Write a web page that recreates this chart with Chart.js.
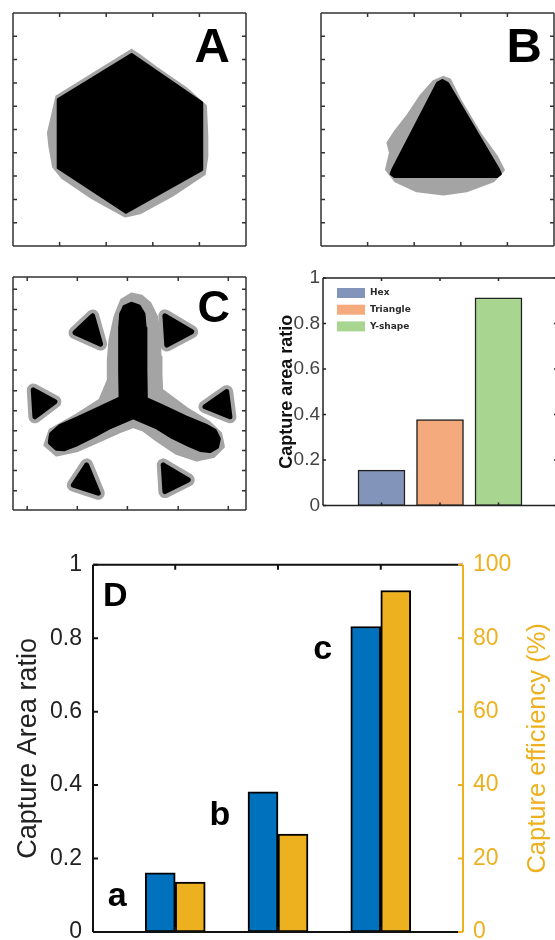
<!DOCTYPE html>
<html>
<head>
<meta charset="utf-8">
<script src="https://cdn.jsdelivr.net/npm/chart.js@4.4.1/dist/chart.umd.min.js"></script>
<style>
html, body { margin: 0; padding: 0; background: #fff; }
body { width: 555px; height: 940px; overflow: hidden; position: relative; }
canvas { position: absolute; }
</style>
</head>
<body>
<canvas id="panelA" width="260" height="260" style="left:0;top:0"></canvas>
<canvas id="panelB" width="260" height="260" style="left:308px;top:0"></canvas>
<canvas id="panelC" width="260" height="260" style="left:0;top:264px"></canvas>
<canvas id="shapeBars" width="310" height="260" style="left:260px;top:260px"></canvas>
<canvas id="panelD" width="555" height="420" style="left:0;top:540px"></canvas>
<script>
// ---- panel A: hexagon (black) and its captured area (grey), 0..100 units
var hexCore = [[50.9,82.2],[19.4,62.9],[19.4,33.6],[48.5,14.5],[81.0,32.8],[81.0,61.5]];
var hexHalo = [[50.9,84.2],[37.3,75.8],[27.3,69.6],[18.6,64.2],[17.0,57.2],[15.0,48.6],[15.6,42.8],
  [17.2,34.0],[21.0,29.2],[34.0,20.4],[48.2,12.6],[54.5,14.0],[68.5,21.6],[82.3,30.8],[83.4,38.5],
  [83.4,47.1],[82.8,60.2],[74.3,67.8],[61.7,76.5],[54.5,81.8]];

// ---- panel B: triangle
var triCore = [[52.1,71.0],[54.3,69.8],[76.0,33.2],[77.0,31.0],[75.5,29.8],[31.6,29.8],[30.1,31.0],[31.0,33.2],[50.0,69.9]];
var triHalo = [[52.5,72.6],[55.4,71.5],[59.7,62.9],[68.2,48.6],[75.4,38.6],[78.5,32.6],[74.0,27.8],[62.5,23.5],
  [52.5,22.1],[41.1,23.5],[31.8,27.8],[27.9,32.8],[29.6,40.0],[28.5,44.3],[31.8,49.3],[36.8,55.7],[42.5,64.3],[48.2,70.7]];

// ---- panel C: Y-shape plus six small triangles
var yCore = [[48.0,87.0],[50.9,88.3],[53.9,87.2],[55.8,84.0],[56.3,78.0],[56.6,60.0],[56.8,47.5],[64.0,44.3],
  [74.0,39.6],[83.1,35.8],[86.5,33.8],[88.1,30.5],[87.4,27.2],[84.5,25.5],[80.5,26.0],[76.0,27.9],[68.0,31.8],
  [61.6,35.8],[51.6,40.0],[41.6,35.8],[34.5,32.0],[27.3,28.4],[22.0,26.3],[18.7,26.5],[16.0,29.0],[16.5,32.5],
  [20.2,35.8],[28.0,39.3],[37.0,43.5],[46.4,47.9],[46.2,60.0],[46.2,78.0],[46.6,84.0]];
var yHalo = [[50.9,92.7],[55.2,91.8],[58.8,88.7],[61.6,83.0],[62.8,75.8],[63.1,65.8],[63.5,58.6],[63.8,51.5],
  [74.5,43.6],[83.8,37.9],[89.1,32.9],[90.3,27.2],[86.0,22.9],[78.8,21.4],[70.2,24.3],[61.6,30.0],[55.9,34.3],
  [51.6,35.8],[45.9,33.6],[37.3,29.8],[27.3,25.4],[18.7,23.6],[13.7,27.9],[15.9,34.3],[27.3,40.8],[37.3,47.2],
  [40.9,55.8],[40.9,64.4],[41.6,72.9],[43.8,83.0],[46.6,90.1]];
var sat1 = [[34.2,83.3],[26.6,76.1],[37.6,71.2]];
var sat2 = [[65.2,83.3],[76.7,76.5],[66.0,70.8]];
var sat3 = [[8.7,51.5],[18.0,46.5],[9.4,40.0]];
var sat4 = [[91.7,50.8],[93.1,40.0],[82.4,44.3]];
var sat5 = [[31.6,19.3],[36.6,7.2],[25.9,10.7]];
var sat6 = [[64.5,19.3],[75.2,12.9],[65.2,7.9]];

// tick positions of the image frames
var frameTicksX = [20, 40, 60, 80];
var frameTicksY = [10, 20, 30, 40, 50, 60, 70, 80, 90];
var cTicksX = [6.1, 27.6, 49.1, 70.9, 92.4];
var cTicksY = [8.3, 16.9, 25.5, 34.0, 42.6, 51.2, 60.1, 68.7, 77.3, 86.1, 94.7];

// ---- small bar chart
var shapeNames = ['Hex', 'Triangle', 'Y-shape'];
var shapeRatio = [0.156, 0.378, 0.913];
var shapeColors = ['#8294b9', '#f5aa7d', '#a8d590'];

// ---- panel D
var groups = ['a', 'b', 'c'];
var areaRatio = [0.161, 0.382, 0.832];
var efficiency = [13.6, 26.7, 93.0];
var ratioTicks = [0, 0.2, 0.4, 0.6, 0.8, 1];
var effTicks = [0, 20, 40, 60, 80, 100];
var groupTicks = [1, 2, 3];

var FONT = "'Liberation Sans', Arial, sans-serif";
var GREY = '#a4a4a4';
var GOLD = '#EDB120';

function pts(arr) {
    var p = arr.map(function (v) { return {x: v[0], y: v[1]}; });
    p.push(p[0]);
    return p;
}

// box, inward ticks, panel letter and a few texts
var frame = {
    id: 'frame',
    afterDraw: function (chart, args, o) {
        var ctx = chart.ctx, a = chart.chartArea;
        ctx.save();
        (o.edges || []).forEach(function (e) {
            var sc = chart.scales[e.scale];
            ctx.strokeStyle = e.color;
            ctx.lineWidth = e.width;
            ctx.beginPath();
            if (e.side === 'left' || e.side === 'right') {
                var x = e.side === 'left' ? a.left : a.right, d = e.side === 'left' ? 1 : -1;
                ctx.moveTo(x, a.top); ctx.lineTo(x, a.bottom);
                e.ticks.forEach(function (t) {
                    var y = sc.getPixelForValue(t);
                    ctx.moveTo(x, y); ctx.lineTo(x + d * o.len, y);
                });
            } else {
                var y = e.side === 'top' ? a.top : a.bottom, d2 = e.side === 'top' ? 1 : -1;
                ctx.moveTo(a.left, y); ctx.lineTo(a.right, y);
                e.ticks.forEach(function (t) {
                    var xx = sc.getPixelForValue(t);
                    ctx.moveTo(xx, y); ctx.lineTo(xx, y + d2 * o.len);
                });
            }
            ctx.stroke();
        });
        if (o.letter) {
            var L = o.letter;
            ctx.fillStyle = '#000';
            ctx.font = L.font;
            ctx.textAlign = L.align;
            ctx.textBaseline = 'alphabetic';
            ctx.fillText(L.text, (L.align === 'right' ? a.right : a.left) + L.dx, a.top + L.dy);
        }
        if (o.sideTitle) {
            var T = o.sideTitle;
            ctx.save();
            ctx.translate(T.x, (a.top + a.bottom) / 2);
            ctx.rotate(-Math.PI / 2);
            ctx.fillStyle = T.color;
            ctx.font = T.font;
            ctx.textAlign = 'center';
            ctx.textBaseline = 'middle';
            ctx.fillText(T.text, 0, 0);
            ctx.restore();
        }
        if (o.groupLabels) {
            var meta = chart.getDatasetMeta(0);
            ctx.fillStyle = '#000';
            ctx.font = 'bold 34px ' + FONT;
            ctx.textAlign = 'center';
            ctx.textBaseline = 'alphabetic';
            o.groupLabels.forEach(function (g, i) {
                var bar = meta.data[i];
                ctx.fillText(g, bar.x - 43, bar.y + 33);
            });
        }
        if (o.legend) {
            var G = o.legend;
            ctx.font = 'bold 9px "DejaVu Sans"';
            ctx.textAlign = 'left';
            ctx.textBaseline = 'middle';
            G.names.forEach(function (n, i) {
                var y = a.top + G.dy + i * G.step;
                ctx.fillStyle = G.colors[i];
                ctx.fillRect(a.left + G.dx, y - 5, 28, 10);
                ctx.fillStyle = '#2b2b2b';
                ctx.fillText(n, a.left + G.dx + 33, y);
            });
        }
        ctx.restore();
    }
};

function shapePanel(id, layers, ticksX, ticksY, letter) {
    return new Chart(document.getElementById(id), {
        type: 'scatter',
        data: {
            datasets: layers.map(function (l) {
                return {
                    data: pts(l.poly),
                    showLine: true,
                    fill: 'shape',
                    backgroundColor: l.color,
                    borderColor: l.color,
                    borderWidth: l.edge,
                    borderJoinStyle: 'round',
                    borderCapStyle: 'round',
                    pointRadius: 0,
                    tension: 0,
                    order: l.order
                };
            })
        },
        options: {
            responsive: false,
            animation: false,
            events: [],
            layout: {padding: {left: 13, top: 13, right: 14, bottom: 14}},
            scales: {
                x: {type: 'linear', min: 0, max: 100, display: false},
                y: {type: 'linear', min: 0, max: 100, display: false}
            },
            plugins: {
                legend: {display: false},
                tooltip: {enabled: false},
                frame: {
                    len: 4,
                    edges: [
                        {side: 'left', scale: 'y', ticks: ticksY, color: '#333', width: 1.5},
                        {side: 'right', scale: 'y', ticks: ticksY, color: '#333', width: 1.5},
                        {side: 'top', scale: 'x', ticks: ticksX, color: '#333', width: 1.5},
                        {side: 'bottom', scale: 'x', ticks: ticksX, color: '#333', width: 1.5}
                    ],
                    letter: letter
                }
            }
        },
        plugins: [frame]
    });
}

shapePanel('panelA', [
    {poly: hexCore, color: '#000', edge: 3, order: 1},
    {poly: hexHalo, color: GREY, edge: 2, order: 2}
], frameTicksX, frameTicksY, {text: 'A', font: 'bold 49px ' + FONT, align: 'right', dx: -16, dy: 49});

shapePanel('panelB', [
    {poly: triCore, color: '#000', edge: 3, order: 1},
    {poly: triHalo, color: GREY, edge: 2, order: 2}
], frameTicksX, frameTicksY, {text: 'B', font: 'bold 49px ' + FONT, align: 'right', dx: -12, dy: 49});

var satellites = [sat1, sat2, sat3, sat4, sat5, sat6];
var cLayers = [
    {poly: yCore, color: '#000', edge: 5, order: 1},
    {poly: yHalo, color: GREY, edge: 3, order: 2}
];
satellites.forEach(function (s) {
    cLayers.push({poly: s, color: '#000', edge: 5, order: 1});
    cLayers.push({poly: s, color: GREY, edge: 13, order: 2});
});
shapePanel('panelC', cLayers, cTicksX, cTicksY,
    {text: 'C', font: 'bold 45px ' + FONT, align: 'right', dx: -16, dy: 45});

// ---- small bar chart (Hex / Triangle / Y-shape)
new Chart(document.getElementById('shapeBars'), {
    type: 'bar',
    data: {
        datasets: shapeNames.map(function (n, i) {
            return {
                label: n,
                data: [{x: groupTicks[i], y: shapeRatio[i]}],
                backgroundColor: shapeColors[i],
                borderColor: '#222',
                borderWidth: 1.5,
                borderSkipped: false,
                barThickness: 47,
                grouped: false
            };
        })
    },
    options: {
        responsive: false,
        animation: false,
        events: [],
        layout: {padding: {left: 0, top: 18, right: 13, bottom: 11}},
        scales: {
            x: {type: 'linear', min: 0, max: 4, offset: false, display: false},
            y: {
                min: 0, max: 1,
                afterBuildTicks: function (s) { s.ticks = ratioTicks.map(function (v) { return {value: v}; }); },
                afterFit: function (s) { s.width = 63; },
                grid: {display: false, drawTicks: false},
                border: {display: false},
                ticks: {font: {family: FONT, size: 19}, color: '#444', padding: 3,
                    callback: function (v) { return String(v); }},
                title: {display: true, text: 'Capture area ratio', color: '#111',
                    font: {family: FONT, size: 18, weight: 'bold'}, padding: {top: 16, bottom: 0}}
            }
        },
        plugins: {
            legend: {display: false},
            tooltip: {enabled: false},
            frame: {
                len: 3,
                edges: [
                    {side: 'left', scale: 'y', ticks: ratioTicks, color: '#222', width: 1.5},
                    {side: 'right', scale: 'y', ticks: ratioTicks, color: '#222', width: 1.5},
                    {side: 'top', scale: 'x', ticks: groupTicks, color: '#222', width: 1.5},
                    {side: 'bottom', scale: 'x', ticks: groupTicks, color: '#222', width: 1.5}
                ],
                legend: {names: shapeNames, colors: shapeColors, dx: 14, dy: 15, step: 16.7}
            }
        }
    },
    plugins: [frame]
});

// ---- panel D: capture area ratio and capture efficiency
new Chart(document.getElementById('panelD'), {
    type: 'bar',
    data: {
        datasets: [
            {
                label: 'Capture Area ratio',
                data: groups.map(function (g, i) { return {x: groupTicks[i], y: areaRatio[i]}; }),
                yAxisID: 'y',
                backgroundColor: '#0072BD',
                borderColor: '#000',
                borderWidth: 2,
                borderSkipped: false,
                barThickness: 30
            },
            {
                label: 'Capture efficiency (%)',
                data: groups.map(function (g, i) { return {x: groupTicks[i], y: efficiency[i]}; }),
                yAxisID: 'y2',
                backgroundColor: GOLD,
                borderColor: '#000',
                borderWidth: 2,
                borderSkipped: false,
                barThickness: 30
            }
        ]
    },
    options: {
        responsive: false,
        animation: false,
        events: [],
        layout: {padding: {left: 0, top: 22, right: 0, bottom: 28}},
        scales: {
            x: {type: 'linear', min: 0.2, max: 3.8, offset: false, display: false},
            y: {
                position: 'left',
                min: 0, max: 1,
                afterBuildTicks: function (s) { s.ticks = ratioTicks.map(function (v) { return {value: v}; }); },
                afterFit: function (s) { s.width = 93; },
                grid: {display: false, drawTicks: false},
                border: {display: false},
                ticks: {font: {family: FONT, size: 23}, color: '#222', padding: 11,
                    callback: function (v) { return String(v); }},
                title: {display: true, text: 'Capture Area ratio', color: '#222',
                    font: {family: FONT, size: 27}, padding: {top: 12, bottom: 0}}
            },
            y2: {
                position: 'right',
                min: 0, max: 100,
                afterBuildTicks: function (s) { s.ticks = effTicks.map(function (v) { return {value: v}; }); },
                afterFit: function (s) { s.width = 92; },
                grid: {display: false, drawTicks: false},
                border: {display: false},
                ticks: {font: {family: FONT, size: 23}, color: GOLD, padding: 10,
                    callback: function (v) { return String(v); }}
            }
        },
        plugins: {
            legend: {display: false},
            tooltip: {enabled: false},
            frame: {
                len: 5,
                edges: [
                    {side: 'left', scale: 'y', ticks: ratioTicks, color: '#111', width: 2},
                    {side: 'top', scale: 'x', ticks: groupTicks, color: '#111', width: 2},
                    {side: 'bottom', scale: 'x', ticks: groupTicks, color: '#111', width: 2},
                    {side: 'right', scale: 'y2', ticks: effTicks, color: GOLD, width: 2}
                ],
                letter: {text: 'D', font: 'bold 34px ' + FONT, align: 'left', dx: 10, dy: 41},
                sideTitle: {text: 'Capture efficiency (%)', x: 538, color: GOLD, font: '25.5px ' + FONT},
                groupLabels: groups
            }
        }
    },
    plugins: [frame]
});
</script>
</body>
</html>
